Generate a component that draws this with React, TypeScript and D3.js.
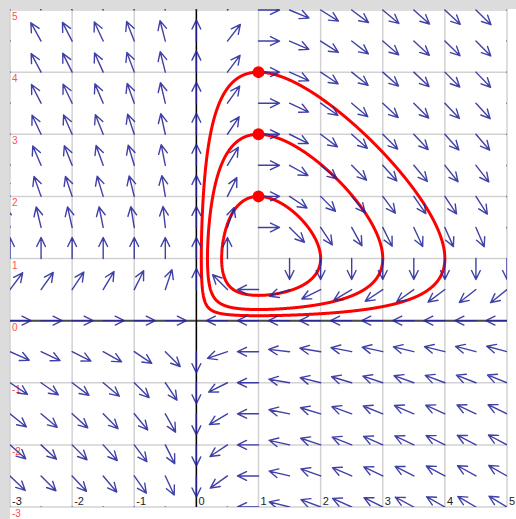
import React from "react";
import * as d3 from "d3";

// Lotka–Volterra type system: x' = x (y - a), y' = y (b - x)
const paramA = 1;
const paramB = 1;

// Axis ticks
const xTicks = [-3, -2, -1, 0, 1, 2, 3, 4, 5];
const yTicks = [-3, -2, -1, 0, 1, 2, 3, 4, 5];

// Sample points for the direction field
const fieldXs = [-3, -2.5, -2, -1.5, -1, -0.5, 0, 0.5, 1, 1.5, 2, 2.5, 3, 3.5, 4, 4.5, 5];
const fieldYs = [-3, -2.5, -2, -1.5, -1, -0.5, 0, 0.5, 1, 1.5, 2, 2.5, 3, 3.5, 4, 4.5, 5];

// Initial conditions of the plotted trajectories
const startXs = [1, 1, 1];
const startYs = [2, 3, 4];

const W = 516;
const H = 519;
const left = 10;
const top = 10;
const right = 507;
const bottom = 507;

function field(px: number, py: number): [number, number] {
  return [px * (py - paramA), py * (paramB - px)];
}

function rk4(p: [number, number], dt: number): [number, number] {
  const [x0, y0] = p;
  const k1 = field(x0, y0);
  const k2 = field(x0 + (dt / 2) * k1[0], y0 + (dt / 2) * k1[1]);
  const k3 = field(x0 + (dt / 2) * k2[0], y0 + (dt / 2) * k2[1]);
  const k4 = field(x0 + dt * k3[0], y0 + dt * k3[1]);
  return [
    x0 + (dt / 6) * (k1[0] + 2 * k2[0] + 2 * k3[0] + k4[0]),
    y0 + (dt / 6) * (k1[1] + 2 * k2[1] + 2 * k3[1] + k4[1]),
  ];
}

// Integrate one full loop around the equilibrium (b, a)
function orbit(x0: number, y0: number): [number, number][] {
  const pts: [number, number][] = [[x0, y0]];
  let p: [number, number] = [x0, y0];
  let total = 0;
  let prevAng = Math.atan2(y0 - paramA, x0 - paramB);
  const dt = 0.001;
  for (let i = 0; i < 200000; i++) {
    p = rk4(p, dt);
    const ang = Math.atan2(p[1] - paramA, p[0] - paramB);
    let d = ang - prevAng;
    if (d > Math.PI) d -= 2 * Math.PI;
    if (d < -Math.PI) d += 2 * Math.PI;
    total += d;
    prevAng = ang;
    pts.push(p);
    if (Math.abs(total) >= 2 * Math.PI) break;
  }
  pts.push([x0, y0]);
  return pts;
}

export default function App() {
  const x = d3.scaleLinear().domain([-3, 5]).range([left, right]);
  const y = d3.scaleLinear().domain([-3, 5]).range([bottom, top]);

  const line = d3
    .line<[number, number]>()
    .x((d) => x(d[0]))
    .y((d) => y(d[1]));

  const L = 21;
  const headLen = 10;
  const headAng = (26 * Math.PI) / 180;

  const arrows: string[] = [];
  fieldXs.forEach((fx) => {
    fieldYs.forEach((fy) => {
      const [vx, vy] = field(fx, fy);
      const m = Math.hypot(vx, vy);
      if (m < 1e-9) return;
      const ux = vx / m;
      const uy = -vy / m;
      const tx = x(fx);
      const ty = y(fy);
      const hx = tx + L * ux;
      const hy = ty + L * uy;
      const a = Math.atan2(uy, ux);
      const b1x = hx - headLen * Math.cos(a - headAng);
      const b1y = hy - headLen * Math.sin(a - headAng);
      const b2x = hx - headLen * Math.cos(a + headAng);
      const b2y = hy - headLen * Math.sin(a + headAng);
      arrows.push(
        `M${tx},${ty}L${hx},${hy}M${b1x},${b1y}L${hx},${hy}L${b2x},${b2y}`
      );
    });
  });

  const orbits = startYs.map((sy, i) => orbit(startXs[i], sy));
  const font = "'Liberation Sans', Arial, sans-serif";

  return (
    <svg
      width={W}
      height={H}
      style={{ position: "absolute", left: 0, top: 0, display: "block" }}
    >
      <defs>
        <clipPath id="plotClip">
          <rect x={left} y={top - 1} width={right - left} height={bottom - top + 1} />
        </clipPath>
      </defs>
      <rect x={0} y={0} width={W} height={H} fill="#dcdcdc" />
      <rect x={left} y={top - 1} width={W - left} height={H - top + 1} fill="#ffffff" />

      {/* grid */}
      <g stroke="#d2d2d2" strokeWidth={1.5}>
        {xTicks.map((t) => (
          <line key={"gx" + t} x1={x(t)} x2={x(t)} y1={top - 1} y2={bottom} />
        ))}
        {yTicks.map((t) => (
          <line key={"gy" + t} x1={left} x2={right} y1={y(t)} y2={y(t)} />
        ))}
      </g>

      {/* axes */}
      <line x1={left} x2={right} y1={y(0)} y2={y(0)} stroke="#4a4a4a" strokeWidth={2} />
      <line x1={x(0)} x2={x(0)} y1={top - 1} y2={bottom} stroke="#000000" strokeWidth={1.5} />

      {/* tick labels */}
      <g fontFamily={font} fontSize={10} fill="#ff4d4d">
        {yTicks.map((t) => (
          <text key={"ly" + t} x={12} y={y(t) + 10}>
            {t}
          </text>
        ))}
      </g>
      <g fontFamily={font} fontSize={11} fill="#222222">
        {xTicks.map((t) => (
          <text key={"lx" + t} x={x(t) + 2} y={bottom - 2}>
            {t}
          </text>
        ))}
      </g>

      {/* trajectories */}
      <g clipPath="url(#plotClip)">
        {orbits.map((pts, i) => (
          <path
            key={"o" + i}
            d={line(pts) || ""}
            fill="none"
            stroke="#ff0000"
            strokeWidth={3}
            strokeLinejoin="round"
          />
        ))}
      </g>

      {/* direction field */}
      <g clipPath="url(#plotClip)">
        <path
          d={arrows.join("")}
          fill="none"
          stroke="#25259a"
          strokeWidth={1.4}
          strokeOpacity={0.88}
          strokeLinecap="round"
          strokeLinejoin="round"
        />
      </g>

      {/* initial points */}
      {startYs.map((sy, i) => (
        <circle key={"p" + i} cx={x(startXs[i])} cy={y(sy)} r={6} fill="#ff0000" />
      ))}
    </svg>
  );
}
